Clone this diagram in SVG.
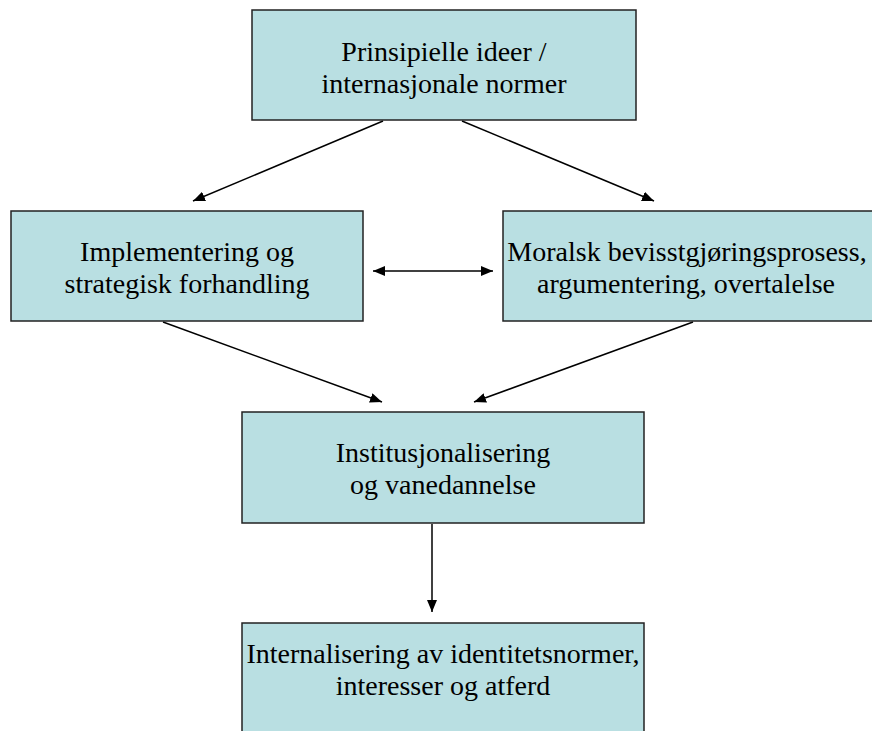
<svg xmlns="http://www.w3.org/2000/svg" width="872" height="731" viewBox="0 0 872 731">
<style>
.box{fill:#b9dfe2;stroke:#222;stroke-width:1.5}
.t{font-family:'Liberation Serif','Times New Roman',serif;font-size:28px;fill:#000;text-anchor:middle}
.c{stroke:#000;stroke-width:1.5;fill:none}
</style>
<defs>
<marker id="ah" viewBox="0 0 12 10" refX="12" refY="5" markerWidth="12" markerHeight="10" markerUnits="userSpaceOnUse" orient="auto-start-reverse">
<path d="M0,0 L12,5 L0,10 z" fill="#000"/>
</marker>
</defs>
<rect width="872" height="731" fill="#fff"/>
<g id="connectors">
<line class="c" x1="383" y1="121" x2="193" y2="201" marker-end="url(#ah)"/>
<line class="c" x1="462" y1="121" x2="654" y2="201" marker-end="url(#ah)"/>
<line class="c" x1="373" y1="271" x2="493" y2="271" marker-start="url(#ah)" marker-end="url(#ah)"/>
<line class="c" x1="163" y1="322" x2="382" y2="402" marker-end="url(#ah)"/>
<line class="c" x1="693" y1="322" x2="474" y2="402" marker-end="url(#ah)"/>
<line class="c" x1="432" y1="524" x2="432" y2="612" marker-end="url(#ah)"/>
</g>
<g id="n1">
<rect class="box" x="252" y="10" width="384" height="110"/>
<text class="t" font-family="Liberation Serif, serif" x="444" y="61">Prinsipielle ideer /</text>
<text class="t" font-family="Liberation Serif, serif" x="444" y="93">internasjonale normer</text>
</g>
<g id="n2">
<rect class="box" x="11" y="211" width="352" height="110"/>
<text class="t" font-family="Liberation Serif, serif" x="187" y="261">Implementering og</text>
<text class="t" font-family="Liberation Serif, serif" x="187" y="293">strategisk forhandling</text>
</g>
<g id="n3">
<rect class="box" x="503" y="211" width="380" height="110"/>
<text class="t" font-family="Liberation Serif, serif" x="687" y="261">Moralsk bevisstgjøringsprosess,</text>
<text class="t" font-family="Liberation Serif, serif" x="686" y="293">argumentering, overtalelse</text>
</g>
<g id="n4">
<rect class="box" x="242" y="412" width="402" height="111"/>
<text class="t" font-family="Liberation Serif, serif" x="443" y="462">Institusjonalisering</text>
<text class="t" font-family="Liberation Serif, serif" x="443" y="494">og vanedannelse</text>
</g>
<g id="n5">
<rect class="box" x="242" y="623" width="402" height="120"/>
<text class="t" font-family="Liberation Serif, serif" x="443" y="663">Internalisering av identitetsnormer,</text>
<text class="t" font-family="Liberation Serif, serif" x="443" y="695">interesser og atferd</text>
</g>
</svg>
